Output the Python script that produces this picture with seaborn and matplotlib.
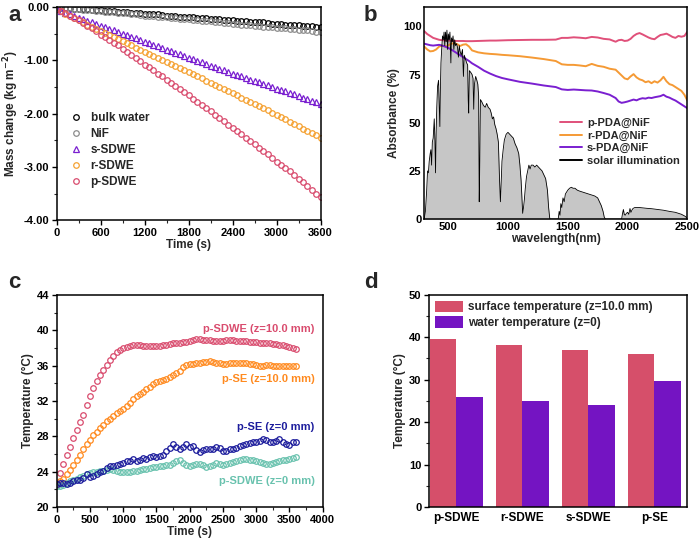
import numpy as np
import pandas as pd
import seaborn as sns
import matplotlib.pyplot as plt
from matplotlib.ticker import MultipleLocator, FormatStrFormatter
from matplotlib.lines import Line2D

sns.set_theme(style="ticks")
plt.rcParams['font.family'] = ['Liberation Sans', 'DejaVu Sans']
plt.rcParams['font.weight'] = 'bold'
plt.rcParams['axes.labelweight'] = 'bold'
plt.rcParams['axes.linewidth'] = 1.1
plt.rcParams['axes.edgecolor'] = 'black'

# ---------------- panel a : mass change ----------------
time_a = np.arange(0, 3601, 60)
bulk_water = [0.00, -0.01, -0.01, -0.02, -0.03, -0.03, -0.04, -0.04, -0.05, -0.06,
              -0.06, -0.07, -0.08, -0.08, -0.09, -0.09, -0.10, -0.11, -0.11, -0.12,
              -0.13, -0.13, -0.14, -0.14, -0.15, -0.16, -0.16, -0.17, -0.18, -0.18,
              -0.19, -0.19, -0.20, -0.21, -0.21, -0.22, -0.23, -0.23, -0.24, -0.24,
              -0.25, -0.26, -0.26, -0.27, -0.28, -0.28, -0.29, -0.29, -0.30, -0.31,
              -0.31, -0.32, -0.33, -0.33, -0.34, -0.34, -0.35, -0.36, -0.36, -0.37, -0.38]
nif = [0.00, -0.01, -0.02, -0.02, -0.03, -0.04, -0.05, -0.05, -0.06, -0.07,
       -0.08, -0.09, -0.09, -0.10, -0.11, -0.12, -0.12, -0.13, -0.14, -0.15,
       -0.16, -0.16, -0.17, -0.18, -0.19, -0.19, -0.20, -0.21, -0.22, -0.23,
       -0.23, -0.24, -0.25, -0.26, -0.26, -0.27, -0.28, -0.29, -0.30, -0.30,
       -0.31, -0.32, -0.33, -0.33, -0.34, -0.35, -0.36, -0.37, -0.37, -0.38,
       -0.39, -0.40, -0.40, -0.41, -0.42, -0.43, -0.44, -0.44, -0.45, -0.46, -0.47]
s_sdwe = [-0.03, -0.07, -0.11, -0.14, -0.17, -0.20, -0.23, -0.26, -0.29, -0.32,
          -0.35, -0.38, -0.41, -0.44, -0.47, -0.50, -0.53, -0.56, -0.59, -0.62,
          -0.65, -0.68, -0.71, -0.74, -0.77, -0.80, -0.83, -0.86, -0.89, -0.92,
          -0.95, -0.98, -1.01, -1.04, -1.07, -1.10, -1.13, -1.16, -1.19, -1.22,
          -1.25, -1.28, -1.30, -1.33, -1.36, -1.39, -1.41, -1.44, -1.47, -1.50,
          -1.53, -1.56, -1.58, -1.61, -1.64, -1.67, -1.70, -1.73, -1.76, -1.79, -1.82]
r_sdwe = [-0.03, -0.08, -0.13, -0.17, -0.21, -0.25, -0.29, -0.33, -0.37, -0.41,
          -0.45, -0.49, -0.52, -0.56, -0.60, -0.64, -0.68, -0.72, -0.76, -0.80,
          -0.84, -0.88, -0.91, -0.95, -0.99, -1.03, -1.06, -1.10, -1.14, -1.18,
          -1.22, -1.26, -1.30, -1.34, -1.38, -1.42, -1.46, -1.50, -1.54, -1.58,
          -1.62, -1.66, -1.70, -1.74, -1.78, -1.82, -1.86, -1.90, -1.94, -1.99,
          -2.03, -2.07, -2.11, -2.15, -2.19, -2.24, -2.28, -2.32, -2.36, -2.41, -2.45]
p_sdwe = [-0.03, -0.07, -0.12, -0.16, -0.21, -0.25, -0.30, -0.35, -0.40, -0.45,
          -0.52, -0.57, -0.62, -0.67, -0.72, -0.78, -0.84, -0.90, -0.96, -1.02,
          -1.08, -1.13, -1.19, -1.25, -1.30, -1.36, -1.42, -1.48, -1.54, -1.60,
          -1.66, -1.72, -1.78, -1.84, -1.90, -1.96, -2.02, -2.08, -2.14, -2.21,
          -2.27, -2.33, -2.39, -2.45, -2.51, -2.57, -2.64, -2.70, -2.76, -2.83,
          -2.90, -2.96, -3.02, -3.08, -3.15, -3.22, -3.29, -3.36, -3.43, -3.50, -3.57]

# ---------------- panel b : absorbance + solar ----------------
abs_wl = [300, 325, 350, 375, 400, 425, 450, 475, 500, 525, 550, 575, 600, 625, 650, 675, 700,
          750, 800, 850, 900, 950, 1000, 1100, 1200, 1300, 1400,
          1450, 1500, 1550, 1600, 1650, 1700, 1750, 1800, 1850, 1900,
          1925, 1950, 1975, 2000, 2025, 2050, 2075, 2100, 2125, 2150, 2175, 2200,
          2225, 2250, 2275, 2300, 2325, 2350, 2375, 2400, 2425, 2450, 2475, 2500]
p_abs = [97.5, 96, 95, 94, 93.5, 93, 92.8, 92.7, 92.6, 92.5, 92.4, 92.4, 92.4, 92.4, 92.3, 92.3, 92.3,
         92.4, 92.5, 92.6, 92.6, 92.7, 92.8, 92.9, 93.0, 93.0, 93.1,
         94.0, 94.0, 94.3, 94.1, 93.8, 94.5, 94.2, 93.5, 93.2, 92.0,
         92.8, 93.0, 92.4, 92.6, 93.5, 95.0, 96.0, 96.5, 95.8, 95.0, 94.2, 93.6,
         93.3, 94.5, 95.5, 95.8, 96.2, 95.4, 94.5, 94.0, 95.0, 94.6, 95.0, 97.2]
r_abs = [89.5, 88, 87, 87.2, 88, 89.5, 90, 89.5, 90, 91, 91.2, 90.8, 89.8, 90.5, 90.7, 89.5, 87.5,
         86.5, 86, 85.7, 85.5, 85.2, 85, 84.5, 83.8, 83, 82,
         80.3, 80, 80, 79.7, 79.3, 80.5, 79.5, 79, 78, 77.5,
         76, 74.5, 73, 72.5, 74, 75.2, 73.5, 72.5, 72, 71, 71.5, 70.5,
         71.5, 70.8, 72, 73.8, 71.5, 70, 69.5, 68.5, 67.5, 66.5, 64.5, 61.5]
s_abs = [91, 90.6, 90.2, 90, 90.2, 90.4, 90, 89.5, 88.8, 88, 87, 86, 85, 84, 83, 82, 80.8,
         79, 77, 75.5, 74.2, 73.2, 72.5, 71.2, 70.3, 69.3, 68.5,
         67.3, 67, 67.2, 67, 66.8, 66.7, 66.2, 65.4, 64.5, 62.8,
         61, 60.3, 60.6, 61, 61.5, 62, 61.6, 62.3, 62.7, 62.5, 63, 62.8,
         63.2, 63.5, 63.8, 64.5, 63.5, 63, 62.2, 61.5, 60.5, 59.5, 58.5, 57.5]

solar_wl = [300, 310, 320, 328, 335, 342, 350, 356, 362, 368, 375, 384, 390, 395, 400, 405, 412,
            420, 425, 431, 436, 440, 446, 453, 460, 466, 472, 478, 484, 490, 496, 502, 508,
            515, 523, 528, 535, 541, 548, 555, 562, 570, 579, 586, 593, 600, 610, 620, 628,
            635, 645, 655, 663, 668, 672, 678, 690, 700, 708, 714, 720, 730, 740, 748, 755,
            760, 765, 770, 780, 795, 810, 822, 835, 850, 860, 870, 880, 890, 900, 910, 920,
            930, 937, 943, 950, 960, 970, 985, 1000, 1015, 1030, 1045, 1060, 1075, 1090,
            1100, 1110, 1118, 1123, 1130, 1137, 1145, 1155, 1165, 1175, 1185, 1195, 1210,
            1225, 1240, 1255, 1270, 1285, 1300, 1315, 1330, 1340, 1350, 1420, 1428, 1435,
            1442, 1450, 1460, 1470, 1480, 1490, 1500, 1515, 1530, 1545, 1560, 1580, 1600,
            1625, 1650, 1675, 1700, 1725, 1750, 1765, 1780, 1795, 1805, 1815, 1950, 1958,
            1965, 1972, 1980, 1990, 2000, 2010, 2020, 2028, 2035, 2045, 2060, 2080, 2100,
            2130, 2160, 2200, 2250, 2300, 2350, 2400, 2450, 2480, 2500]
solar_val = [0, 4, 14, 25, 24, 30, 34, 36, 28, 40, 42, 52, 40, 24, 45, 58, 69,
             72, 60, 48, 70, 81, 88, 95, 93, 97, 90, 97, 92, 98, 88, 96, 93,
             97, 81, 94, 92, 95, 88, 93, 90, 91, 89, 84, 90, 87, 85, 88, 74,
             85, 83, 81, 80, 62, 55, 77, 76, 75, 73, 57, 70, 74, 72, 70, 64,
             9, 30, 62, 61, 59, 58, 60, 58, 57, 55, 52, 53, 49, 47, 44, 40,
             20, 9, 18, 30, 36, 41, 44, 45, 44, 43, 42, 39, 37, 34,
             28, 20, 10, 3, 6, 10, 16, 22, 25, 28, 26, 28, 28,
             27, 28, 27, 26, 25, 23, 21, 15, 6, 0, 0, 4, 2,
             8, 6, 11, 9, 13, 14, 15, 16, 16.5, 16, 16, 15, 14.5,
             14, 13.5, 13, 12.5, 12, 11, 9, 7, 4, 1, 0, 0, 3,
             5, 2.5, 2, 3, 3.5, 2.5, 5.5, 3.5, 4.5, 5.5, 6, 6, 6,
             5.8, 5.6, 5.4, 5, 4.6, 4, 3.5, 2.5, 1.5, 0.5]

# ---------------- panel c : temperature vs time ----------------
time_c = np.arange(0, 3601, 50)
t_psdwe_10 = [22.5, 23.8, 24.9, 25.9, 26.8, 27.8, 28.7, 29.6, 30.4, 31.5,
              32.6, 33.5, 34.3, 34.9, 35.5, 36.1, 36.6, 37.1, 37.5, 37.8,
              38.0, 38.1, 38.2, 38.3, 38.3, 38.3, 38.2, 38.2, 38.2, 38.2,
              38.2, 38.2, 38.3, 38.3, 38.4, 38.5, 38.6, 38.6, 38.7, 38.7,
              38.8, 38.9, 39.0, 39.0, 38.9, 38.9, 38.9, 38.8, 38.8, 38.8,
              38.8, 38.9, 38.9, 38.9, 38.8, 38.8, 38.8, 38.8, 38.7, 38.7,
              38.7, 38.6, 38.6, 38.5, 38.5, 38.4, 38.4, 38.3, 38.3, 38.2,
              38.1, 38.0, 37.9]
t_pse_10 = [22.7, 22.9, 23.2, 23.7, 24.2, 24.8, 25.3, 25.9, 26.5, 27.1,
            27.6, 28.1, 28.5, 28.9, 29.3, 29.7, 30.0, 30.3, 30.6, 30.9,
            31.1, 31.4, 31.8, 32.2, 32.5, 32.8, 33.0, 33.3, 33.6, 33.9,
            34.1, 34.2, 34.4, 34.5, 34.7, 34.9, 35.1, 35.4, 35.8, 36.1,
            36.2, 36.2, 36.3, 36.3, 36.4, 36.4, 36.5, 36.4, 36.3, 36.3,
            36.2, 36.2, 36.3, 36.3, 36.3, 36.3, 36.3, 36.3, 36.2, 36.2,
            36.1, 36.0, 36.0, 36.1, 36.1, 36.0, 36.0, 35.9, 35.9, 35.9,
            35.9, 36.0, 36.0]
t_pse_0 = [22.6, 22.7, 22.7, 22.6, 22.7, 22.9, 23.0, 23.1, 23.3, 23.7,
           23.4, 23.5, 23.7, 24.0, 24.1, 24.4, 24.6, 24.6, 24.8, 24.9,
           25.0, 25.2, 25.2, 25.4, 25.2, 25.3, 25.5, 25.4, 25.6, 25.8,
           25.7, 25.8, 25.9, 26.3, 26.7, 27.1, 26.8, 26.6, 26.8, 27.1,
           26.8, 26.9, 26.4, 26.2, 26.4, 26.5, 26.6, 26.6, 26.8, 26.7,
           26.3, 26.3, 26.5, 26.6, 26.7, 26.9, 27.0, 27.1, 27.2, 27.3,
           27.4, 27.5, 27.7, 27.6, 27.4, 27.4, 27.5, 27.7, 27.3, 27.1,
           27.0, 27.4, 27.3]
t_psdwe_0 = [22.4, 22.4, 22.5, 22.7, 22.9, 23.0, 23.2, 23.4, 23.5, 23.7,
             23.8, 23.9, 24.0, 24.1, 24.1, 24.2, 24.3, 24.2, 24.1, 24.0,
             24.0, 24.0, 24.0, 24.1, 24.1, 24.2, 24.3, 24.3, 24.4, 24.5,
             24.5, 24.6, 24.6, 24.7, 24.8, 25.0, 25.2, 25.3, 25.0, 24.7,
             24.6, 24.7, 24.9, 24.9, 24.8, 24.5, 24.6, 24.8, 25.0, 24.9,
             24.8, 24.9, 25.0, 25.1, 25.2, 25.3, 25.4, 25.4, 25.3, 25.3,
             25.2, 25.1, 25.0, 24.9, 24.9, 25.0, 25.1, 25.2, 25.3, 25.3,
             25.4, 25.5, 25.6]

# ---------------- panel d : bars ----------------
samples = ['p-SDWE', 'r-SDWE', 's-SDWE', 'p-SE']
surface_temp = [39.6, 38.1, 37.0, 36.0]
water_temp = [25.9, 25.0, 24.0, 29.7]

# colours
c_pink = '#d94c6e'
c_orange_a = '#f5a233'
c_purple = '#7a1fd0'
c_orange_c = '#ff8a1f'
c_navy = '#1c1c9c'
c_teal = '#69c2ae'


def style_axes(ax):
    for sp in ax.spines.values():
        sp.set_visible(True)
        sp.set_linewidth(1.1)
        sp.set_color('black')
    ax.tick_params(which='major', direction='out', length=3.5, width=1.0,
                   labelsize=8, pad=2, colors='black')
    ax.tick_params(which='minor', direction='out', length=2, width=0.8)
    ax.tick_params(top=False, right=False, which='both')
    ax.set_facecolor('white')


fig = plt.figure(figsize=(7, 5.41), dpi=100)

# ---- a
ax = fig.add_axes([0.081, 0.593, 0.377, 0.394])
series_a = [('bulk water', bulk_water, 'black', 'o'),
            ('NiF', nif, '#8c8c8c', 'o'),
            ('s-SDWE', s_sdwe, c_purple, '^'),
            ('r-SDWE', r_sdwe, c_orange_a, 'o'),
            ('p-SDWE', p_sdwe, c_pink, 'o')]
for name, vals, col, mk in series_a:
    sns.lineplot(x=time_a, y=vals, ax=ax, marker=mk, linestyle='', mfc='none',
                 mec=col, ms=4, mew=0.9, label=name)
ax.set_xlim(0, 3600)
ax.set_ylim(-4, 0)
ax.xaxis.set_major_locator(MultipleLocator(600))
ax.xaxis.set_minor_locator(MultipleLocator(300))
ax.yaxis.set_major_locator(MultipleLocator(1))
ax.yaxis.set_minor_locator(MultipleLocator(0.5))
ax.yaxis.set_major_formatter(FormatStrFormatter('%.2f'))
ax.set_xlabel('Time (s)', fontsize=8.5, labelpad=1)
ax.set_ylabel('Mass change (kg m$^{\\mathbf{-2}}$)', fontsize=8.5, labelpad=2)
style_axes(ax)
ax.legend(loc='upper left', bbox_to_anchor=(0.03, 0.53), frameon=False,
          fontsize=8.5, handlelength=1.2, handletextpad=0.6, labelspacing=0.35,
          borderaxespad=0)

# ---- b
ax = fig.add_axes([0.606, 0.595, 0.376, 0.392])
ax.fill_between(solar_wl, solar_val, 0, color='#c6c6c6', lw=0, zorder=1)
sns.lineplot(x=abs_wl, y=p_abs, ax=ax, color='#e0507a', lw=1.4, label='p-PDA@NiF', zorder=2)
sns.lineplot(x=abs_wl, y=r_abs, ax=ax, color='#f59a35', lw=1.4, label='r-PDA@NiF', zorder=2)
sns.lineplot(x=abs_wl, y=s_abs, ax=ax, color=c_purple, lw=1.4, label='s-PDA@NiF', zorder=2)
sns.lineplot(x=solar_wl, y=solar_val, ax=ax, color='black', lw=0.6,
             label='solar illumination', zorder=3)
ax.set_xlim(300, 2500)
ax.set_ylim(0, 110)
ax.xaxis.set_major_locator(MultipleLocator(500))
ax.yaxis.set_major_locator(MultipleLocator(25))
ax.set_xlabel('wavelength(nm)', fontsize=8.5, labelpad=1)
ax.set_ylabel('Absorbance (%)', fontsize=8.5, labelpad=2)
style_axes(ax)
ax.tick_params(which='major', length=0)
leg = ax.legend(loc='upper left', bbox_to_anchor=(0.5, 0.5), frameon=False,
                fontsize=8, handlelength=2.0, handletextpad=0.4, labelspacing=0.25,
                borderaxespad=0)
for h in leg.get_lines():
    h.set_linewidth(1.4)

# ---- c
ax = fig.add_axes([0.081, 0.063, 0.38, 0.392])
series_c = [(t_psdwe_10, c_pink), (t_pse_10, c_orange_c),
            (t_psdwe_0, c_teal), (t_pse_0, c_navy)]
for vals, col in series_c:
    sns.lineplot(x=time_c, y=vals, ax=ax, marker='o', linestyle='', mfc='none',
                 mec=col, ms=4, mew=0.9)
ax.set_xlim(0, 4000)
ax.set_ylim(20, 44)
ax.xaxis.set_major_locator(MultipleLocator(500))
ax.xaxis.set_minor_locator(MultipleLocator(250))
ax.yaxis.set_major_locator(MultipleLocator(4))
ax.yaxis.set_minor_locator(MultipleLocator(2))
ax.set_xlabel('Time (s)', fontsize=8.5, labelpad=1)
ax.set_ylabel('Temperature (\u00b0C)', fontsize=8.5, labelpad=2)
style_axes(ax)
lab_kw = dict(ha='right', va='center', fontsize=8, fontweight='bold')
ax.text(3880, 40.15, 'p-SDWE (z=10.0 mm)', color=c_pink, **lab_kw)
ax.text(3880, 34.5, 'p-SE (z=10.0 mm)', color=c_orange_c, **lab_kw)
ax.text(3880, 29.05, 'p-SE (z=0 mm)', color=c_navy, **lab_kw)
ax.text(3880, 22.9, 'p-SDWE (z=0 mm)', color=c_teal, **lab_kw)

# ---- d
ax = fig.add_axes([0.613, 0.063, 0.369, 0.392])
df_d = pd.DataFrame({
    'sample': samples * 2,
    'kind': ['surface temperature (z=10.0 mm)'] * 4 + ['water temperature (z=0)'] * 4,
    'temp': surface_temp + water_temp,
})
sns.barplot(data=df_d, x='sample', y='temp', hue='kind', ax=ax,
            palette=['#d64f6a', '#7414c2'], saturation=1, width=0.8, gap=0,
            edgecolor='none', linewidth=0)
ax.set_xlim(-0.41, 3.5)
ax.set_ylim(0, 50)
ax.yaxis.set_major_locator(MultipleLocator(10))
ax.yaxis.set_minor_locator(MultipleLocator(5))
ax.set_xlabel('')
ax.set_ylabel('Temperature (\u00b0C)', fontsize=8.5, labelpad=2)
style_axes(ax)
ax.tick_params(axis='x', which='both', length=0, labelsize=8.5, pad=4)
h, l = ax.get_legend_handles_labels()
ax.legend(h, l, loc='upper left', bbox_to_anchor=(0.0, 1.0), frameon=False,
          fontsize=8.5, handlelength=2.4, handleheight=1.1, handletextpad=0.4,
          labelspacing=0.25, borderaxespad=0.1)

# panel letters
for x, y, s in [(0.012, 0.99, 'a'), (0.52, 0.99, 'b'),
                (0.012, 0.497, 'c'), (0.52, 0.497, 'd')]:
    fig.text(x, y, s, fontsize=16, fontweight='bold', va='top', ha='left')

fig.savefig('out.png', dpi=100)
